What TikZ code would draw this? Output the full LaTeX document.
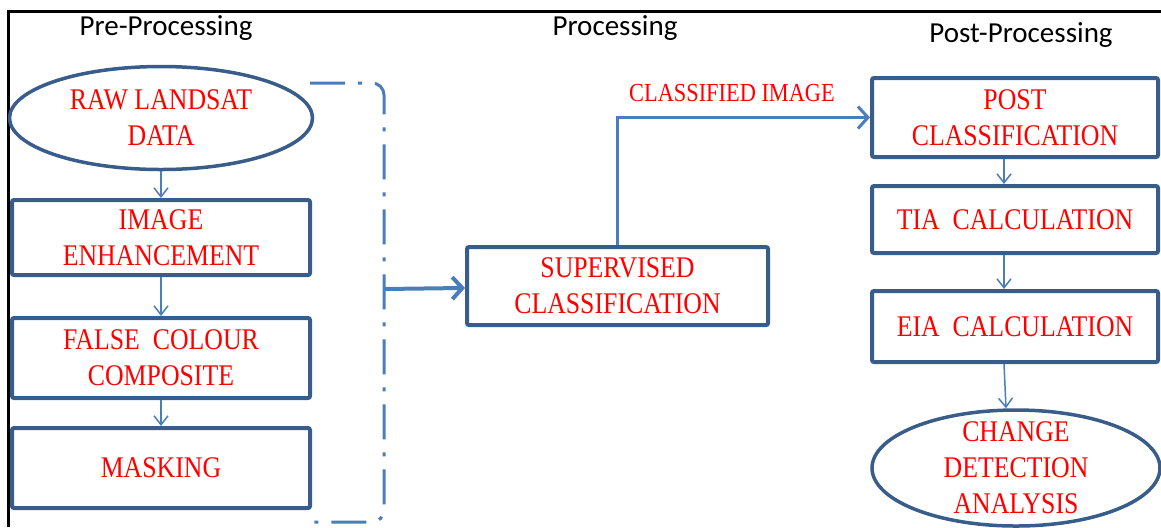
\documentclass[tikz,border=0pt]{standalone}
\usepackage{fontspec}
\setmainfont{Liberation Serif}[FakeStretch=0.86]
\newfontfamily\titlefont{Carlito}
\usetikzlibrary{arrows.meta,shapes.geometric,positioning}
\definecolor{boxblue}{RGB}{56,93,138}
\definecolor{linkblue}{RGB}{74,126,187}
\tikzset{
  procbox/.style={draw=boxblue, line width=2pt, rectangle, rounded corners=1pt, minimum width=149pt, inner sep=0pt, align=center, text=red, font=\fontsize{15pt}{18pt}\selectfont},
  dataoval/.style={draw=boxblue, line width=1.75pt, ellipse, inner sep=-8pt, align=center, text=red, font=\fontsize{15pt}{18pt}\selectfont},
  phasetitle/.style={font=\titlefont\fontsize{14.5pt}{17pt}\selectfont},
  stepline/.style={->, linkblue, line width=0.75pt},
  mainline/.style={-{Straight Barb[length=5pt,width=11pt]}, linkblue, line width=2pt},
  bracketline/.style={linkblue, line width=1.5pt, rounded corners=6pt, dash pattern=on 17.5pt off 6.5pt on 2pt off 6.5pt}
}
\begin{document}
\begin{tikzpicture}[x=0.5pt, y=-0.5pt, >={Straight Barb[length=4.5pt,width=7pt]}]
		\useasboundingbox (0,0) rectangle (1161,527);
		\draw[black, line width=1.5pt] (8,527) -- (8,11) -- (1161,11);
		% titles
		\node (pretitle) [phasetitle] at (166,28) {Pre-Processing};
		\node (proctitle) [phasetitle] at (615,28) {Processing};
		\node (posttitle) [phasetitle] at (1021,35) {Post-Processing};
		% pre-processing
		\node (raw) [dataoval, minimum width=151.5pt, minimum height=51.5pt] at (161,118) {RAW LANDSAT\\DATA};
		\node (enhance) [procbox, minimum height=37.5pt] at (161,237.5) {IMAGE\\ENHANCEMENT};
		\node (fcc) [procbox, minimum height=40pt] at (161,358) {FALSE\ \ COLOUR\\COMPOSITE};
		\node (mask) [procbox, minimum height=40pt] at (161,468) {MASKING};
		\draw[stepline] (raw) -- (enhance);
		\draw[stepline] (enhance) -- (fcc);
		\draw[stepline] (fcc) -- (mask);
		\draw[bracketline] (310,83) -- (384,83) -- (384,522) -- (310,522);
		\coordinate (join) at (384,289);
		% processing
		\node (superv) [procbox, minimum width=150.5pt, minimum height=39pt] at (617.5,286) {SUPERVISED\\CLASSIFICATION};
		\draw[mainline] (join) -- (superv);
		% post-processing
		\node (post) [procbox, minimum width=143pt, minimum height=39.5pt] at (1015,117.5) {POST\\CLASSIFICATION};
		\node (tia) [procbox, minimum width=143pt, minimum height=33.5pt] at (1015,219.5) {TIA\ \ CALCULATION};
		\node (eia) [procbox, minimum width=143pt, minimum height=35.5pt] at (1015,326.5) {EIA\ \ CALCULATION};
		\node (change) [dataoval, minimum width=144pt, minimum height=58pt] at (1016,468) {CHANGE\\DETECTION\\ANALYSIS};
		\draw[mainline, line width=1.5pt] (superv) |- (post);
		\node (climage) [text=red, font=\fontsize{13pt}{15pt}\selectfont] at (732,93) {CLASSIFIED IMAGE};
		\draw[stepline] ([xshift=-5.5pt]post.south) -- ([xshift=-5.5pt]tia.north);
		\draw[stepline] ([xshift=-5.5pt]tia.south) -- ([xshift=-5.5pt]eia.north);
		\draw[stepline] ([xshift=-5.5pt]eia.south) -- ([xshift=-5pt]change.north);
	\end{tikzpicture}
\end{document}
